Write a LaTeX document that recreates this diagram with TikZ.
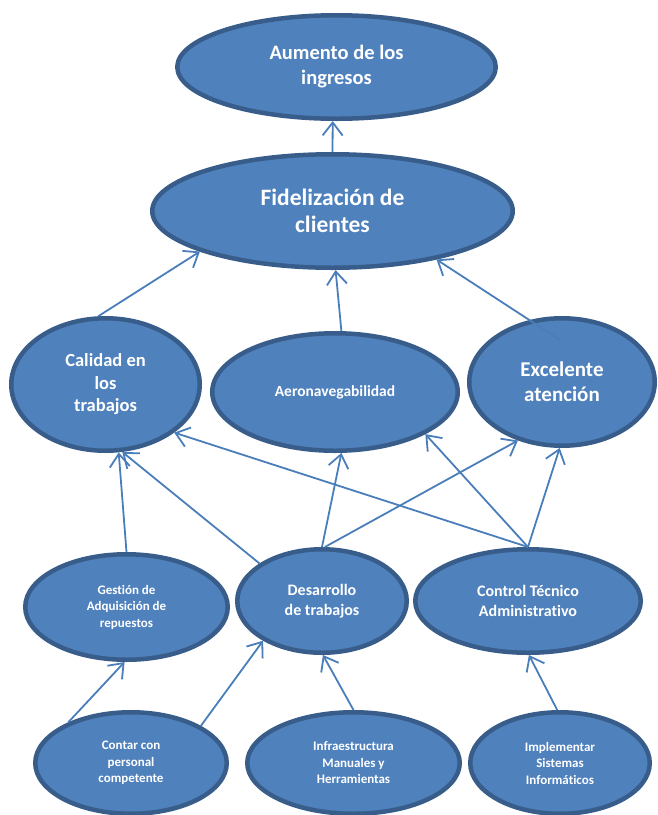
\documentclass[tikz,border=0pt]{standalone}
\usepackage{fontspec}
\setmainfont{Carlito}[Ligatures=CommonOff]
\usetikzlibrary{shapes.geometric,arrows.meta}
\definecolor{nodefill}{HTML}{4F81BD}
\definecolor{nodeline}{HTML}{385D8A}
\definecolor{linkline}{HTML}{4A7EBB}
\tikzset{
  goal/.style={ellipse, draw=nodeline, line width=4.5pt, fill=nodefill,
    text=white, align=center, inner sep=0pt},
  txt/.style 2 args={font=\bfseries\fontsize{#1}{#2}\selectfont},
  link/.style={draw=linkline, line width=1.8pt,
    -{Straight Barb[length=13pt,width=20pt]}},
}
\begin{document}
\begin{tikzpicture}[x=1pt,y=-1pt]
\useasboundingbox (0,0) rectangle (658,815);

% top level
\node[goal, txt={20.5}{25}, minimum width=318.5pt, minimum height=103.5pt]
  (aum) at (336.5,67) {Aumento de los\\ingresos};
\node[goal, txt={23.5}{27}, minimum width=360.5pt, minimum height=113.5pt]
  (fid) at (332.5,211) {Fidelización de\\clientes};

% middle level
\node[goal, txt={18.5}{22.5}, minimum width=188.5pt, minimum height=132.5pt]
  (cal) at (105.5,384.5) {Calidad en\\los\\trabajos};
\node[goal, txt={15.5}{19}, minimum width=245.5pt, minimum height=117.5pt]
  (aer) at (335,392) {Aeronavegabilidad};
\node[goal, txt={21}{25}, minimum width=185.5pt, minimum height=127.5pt]
  (exc) at (562,382) {Excelente\\atención};

% lower level
\node[goal, txt={13}{16.5}, minimum width=202.5pt, minimum height=105.5pt]
  (ges) at (126.5,607) {Gestión de\\Adquisición de\\repuestos};
\node[goal, txt={16}{20}, minimum width=169.5pt, minimum height=103.5pt]
  (des) at (322,601) {Desarrollo\\de trabajos};
\node[goal, txt={16}{20}, minimum width=225.5pt, minimum height=103.5pt]
  (con) at (528,601) {Control Técnico\\Administrativo};

% bottom level
\node[goal, txt={13}{16.5}, minimum width=191.5pt, minimum height=101.5pt]
  (cnt) at (131,763) {Contar con\\personal\\competente};
\node[goal, txt={13}{16.5}, minimum width=212.5pt, minimum height=101.5pt]
  (inf) at (353.5,763) {Infraestructura\\Manuales y\\Herramientas};
\node[goal, txt={13}{16.5}, minimum width=179.5pt, minimum height=101.5pt]
  (imp) at (560,763) {Implementar\\Sistemas\\Informáticos};

% inner start of the link from Excelente
\coordinate (excin) at (560,340);

% links
\draw[link] (fid.90) -- (aum.266);
\draw[link] (cal.96) -- (fid.197);
\draw[link] (aer.84) -- (fid.273);
\draw[link] (excin) -- (fid.335);

\draw[link] (ges.90) -- (cal.281);
\draw[link] (des.149) -- (cal.284);
\draw[link] (con.90) -- (cal.325);
\draw[link] (des.90) -- (aer.276.5);
\draw[link] (des.87) -- (exc.233);
\draw[link] (con.90) -- (aer.335);
\draw[link] (con.90) -- (exc.268);

\draw[link] (cnt.147) -- (ges.268);
\draw[link] (cnt.28) -- (des.214);
\draw[link] (inf.90) -- (des.271);
\draw[link] (imp.93) -- (con.271);
\end{tikzpicture}
\end{document}
